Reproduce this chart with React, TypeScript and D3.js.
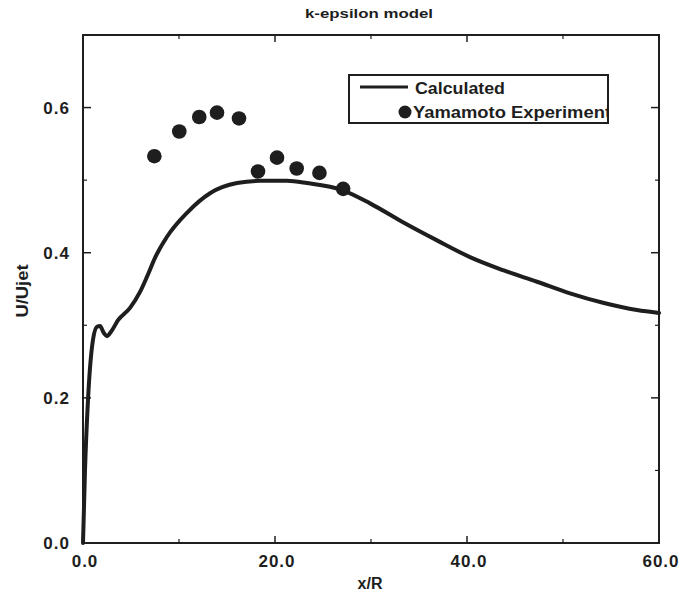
import React from "react";
import * as d3 from "d3";

const calcX = [0, 0.21, 0.52, 1.04, 1.46, 1.77, 2.19, 2.5, 2.92, 3.65, 4.9, 5.94, 6.67, 7.5, 8.75, 10.83, 13.23, 16.04, 18.44, 21.25, 23.33, 27.08, 29.9, 33.33, 36.88, 40.31, 43.75, 47.29, 50.73, 54.17, 57.71, 60];
const calcY = [0, 0.101, 0.197, 0.28, 0.298, 0.299, 0.289, 0.285, 0.291, 0.307, 0.324, 0.346, 0.367, 0.393, 0.422, 0.455, 0.482, 0.496, 0.499, 0.499, 0.496, 0.486, 0.468, 0.442, 0.417, 0.394, 0.376, 0.36, 0.344, 0.331, 0.321, 0.317];

const expX = [7.43, 10.03, 12.11, 13.96, 16.25, 18.23, 20.21, 22.26, 24.63, 27.1];
const expY = [0.533, 0.567, 0.587, 0.593, 0.585, 0.512, 0.531, 0.516, 0.51, 0.488];

const xTicks = [0, 20, 40, 60];
const xMinor = [10, 30, 50];
const yTicks = [0, 0.2, 0.4, 0.6];
const yMinor = [0.1, 0.3, 0.5];

const title = "k-epsilon model";
const xLabel = "x/R";
const yLabel = "U/Ujet";
const seriesNames = ["Calculated", "Yamamoto Experiment"];

export default function App() {
  const W = 687, H = 602;
  const x = d3.scaleLinear().domain([0, 60]).range([83, 659]);
  const y = d3.scaleLinear().domain([0, 0.7]).range([543, 35]);
  const ink = "#1e1e1e";
  const line = d3
    .line<number>()
    .x((_, i) => x(calcX[i]))
    .y((d) => y(d))
    .curve(d3.curveMonotoneX);
  const fmt = d3.format(".1f");
  const [x0, x1] = x.range();
  const [y0, y1] = y.range();
  const font = "'Liberation Sans', Arial, sans-serif";

  const legend = { l: 349, t: 75, r: 608, b: 123 };

  return (
    <svg width={W} height={H} style={{ position: "absolute", left: 0, top: 0, background: "#fff" }} fontFamily={font}>
      <defs>
        <clipPath id="legclip">
          <rect x={legend.l} y={legend.t} width={legend.r - legend.l} height={legend.b - legend.t} />
        </clipPath>
      </defs>
      <text x={369} y={18} textAnchor="middle" fontSize={13} fontWeight="bold" fill={ink} textLength={128} lengthAdjust="spacingAndGlyphs">
        {title}
      </text>

      {/* frame */}
      <rect x={x0} y={y1} width={x1 - x0} height={y0 - y1} fill="none" stroke={ink} strokeWidth={2} />

      {/* ticks */}
      {xTicks.slice(1, -1).map((t) => (
        <g key={"xt" + t}>
          <line x1={x(t)} x2={x(t)} y1={y0} y2={y0 - 7} stroke={ink} strokeWidth={1.5} />
          <line x1={x(t)} x2={x(t)} y1={y1} y2={y1 + 7} stroke={ink} strokeWidth={1.5} />
        </g>
      ))}
      {xMinor.map((t) => (
        <g key={"xm" + t}>
          <line x1={x(t)} x2={x(t)} y1={y0} y2={y0 - 4} stroke={ink} strokeWidth={1.2} />
          <line x1={x(t)} x2={x(t)} y1={y1} y2={y1 + 4} stroke={ink} strokeWidth={1.2} />
        </g>
      ))}
      {yTicks.slice(1).map((t) => (
        <g key={"yt" + t}>
          <line x1={x0} x2={x0 + 8} y1={y(t)} y2={y(t)} stroke={ink} strokeWidth={1.5} />
          <line x1={x1} x2={x1 - 8} y1={y(t)} y2={y(t)} stroke={ink} strokeWidth={1.5} />
        </g>
      ))}
      {yMinor.map((t) => (
        <g key={"ym" + t}>
          <line x1={x0} x2={x0 + 4} y1={y(t)} y2={y(t)} stroke={ink} strokeWidth={1.2} />
          <line x1={x1} x2={x1 - 4} y1={y(t)} y2={y(t)} stroke={ink} strokeWidth={1.2} />
        </g>
      ))}

      {/* tick labels */}
      {xTicks.map((t) => (
        <text key={"xl" + t} x={x(t) + 2} y={567} textAnchor="middle" fontSize={17} fontWeight="bold" fill={ink} letterSpacing={1}>
          {fmt(t)}
        </text>
      ))}
      {yTicks.map((t) => (
        <text key={"yl" + t} x={70} y={y(t) + 6} textAnchor="end" fontSize={17} fontWeight="bold" fill={ink} letterSpacing={1}>
          {fmt(t)}
        </text>
      ))}

      <text x={370} y={589} textAnchor="middle" fontSize={16} fontWeight="bold" fill={ink}>
        {xLabel}
      </text>
      <text transform={`translate(28,291) rotate(-90)`} textAnchor="middle" fontSize={16} fontWeight="bold" fill={ink} textLength={53} lengthAdjust="spacingAndGlyphs">
        {yLabel}
      </text>

      {/* calculated curve */}
      <path d={line(calcY) || ""} fill="none" stroke={ink} strokeWidth={4} strokeLinejoin="round" strokeLinecap="round" />

      {/* experiment */}
      {expX.map((v, i) => (
        <circle key={"e" + i} cx={x(v)} cy={y(expY[i])} r={7.3} fill={ink} />
      ))}

      {/* legend */}
      <rect x={legend.l} y={legend.t} width={legend.r - legend.l} height={legend.b - legend.t} fill="#fff" stroke={ink} strokeWidth={2} />
      <line x1={360} x2={408} y1={87} y2={87} stroke={ink} strokeWidth={3} />
      <text x={415} y={94} fontSize={16} fontWeight="bold" fill={ink} textLength={90} lengthAdjust="spacingAndGlyphs">
        {seriesNames[0]}
      </text>
      <circle cx={405} cy={112} r={6.5} fill={ink} />
      <g clipPath="url(#legclip)">
        <text x={413} y={118} fontSize={16} fontWeight="bold" fill={ink} textLength={198} lengthAdjust="spacingAndGlyphs">
          {seriesNames[1]}
        </text>
      </g>
      <line x1={legend.r} x2={legend.r} y1={legend.t} y2={legend.b} stroke={ink} strokeWidth={2} />
    </svg>
  );
}
